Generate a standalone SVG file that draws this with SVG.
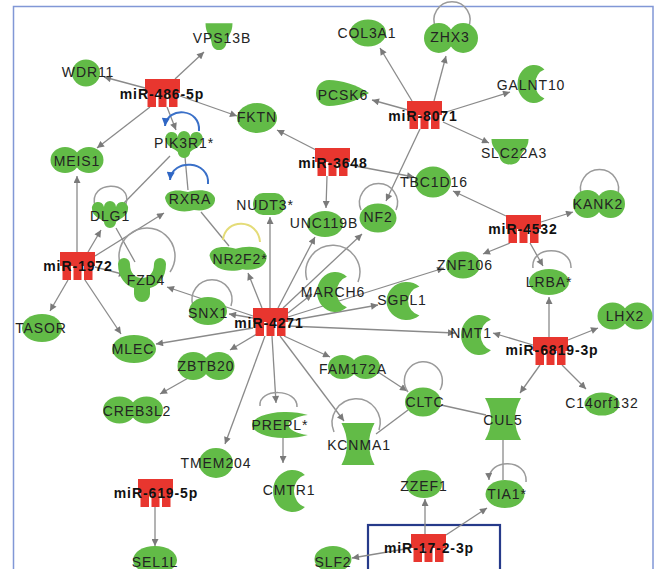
<svg xmlns="http://www.w3.org/2000/svg" width="658" height="569" viewBox="0 0 658 569">
<style>
.e{stroke:#8a8a8a;stroke-width:1.3;fill:none}
.a{marker-end:url(#arr)}
.lp{stroke:#9a9a9a;stroke-width:1.5;fill:none}
.bl{stroke:#3a70c8;stroke-width:2;fill:none;marker-end:url(#arrb)}
.yl{stroke:#e4dc78;stroke-width:2;fill:none}
.g{fill:#62bb47}
.r{fill:#e8362f}
.t{font-family:"Liberation Sans",Arial,sans-serif;font-size:14px;letter-spacing:0.9px;fill:#232323;text-anchor:middle}
.m{font-weight:bold;fill:#111}
</style>
<defs>
<marker id="arr" viewBox="0 0 10 10" refX="10" refY="5" markerWidth="8" markerHeight="7" markerUnits="userSpaceOnUse" orient="auto"><path d="M0,0 L10,5 L0,10 z" fill="#7a7a7a"/></marker>
<marker id="arrb" viewBox="0 0 10 10" refX="10" refY="5" markerWidth="9" markerHeight="8" markerUnits="userSpaceOnUse" orient="auto"><path d="M0,0 L10,5 L0,10 z" fill="#2f66c4"/></marker>
<path id="mir" d="M0,0 H35 V14 H32.5 V28 H24 V14 H21.5 V28 H13.5 V14 H11 V28 H2.5 V14 H0 Z"/>
<g id="peanut"><circle cx="-9" cy="0" r="11"/><circle cx="9" cy="0" r="11"/></g>
<path id="cres" d="M16.4,-15.3 A20,20 0 1 0 16.4,15.3 A16,16 0 0 1 16.4,-15.3 Z"/>
<path id="kin" d="M-18,-6 A6,6 0 0 1 -6,-8 A6,6 0 0 1 6,-8 A6,6 0 0 1 18,-6 C18,2 8,4 6,7 A6,6 0 0 1 -6,7 C-8,4 -18,2 -18,-6 Z"/>
<path id="nr" d="M-25,-3 C-24,-11 -12,-12 -2,-9 C8,-12 22,-12 25,-3 C26,6 16,11 4,9 C-6,12 -22,11 -25,-3 Z"/>
<path id="cup" d="M-18,-14 L18,-14 C18,-4 11,-2 10,4 C9,14 -9,14 -10,4 C-11,-2 -18,-4 -18,-14 Z"/>
<path id="hg" d="M-18,-21 L18,-21 Q6,0 18,21 L-18,21 Q-6,0 -18,-21 Z"/>
<path id="rec" d="M-24,-16 A6,6 0 0 1 -12,-16 C-12,-6 -6,-2 0,-2 C6,-2 12,-6 12,-16 A6,6 0 0 1 24,-16 C24,-2 16,6 8,8 L8,14 A8,8 0 0 1 -8,14 L-8,8 C-16,6 -24,-2 -24,-16 Z"/>
<path id="tear" d="M-14,-13 C-2,-13 14,-8 26,0 C14,8 -2,13 -14,13 A13,13 0 0 1 -14,-13 Z"/>
</defs>
<rect x="0" y="0" width="658" height="569" fill="#ffffff"/>
<rect x="13.5" y="6.5" width="639.5" height="600" fill="none" stroke="#8197d6" stroke-width="1.5"/>
<rect x="368" y="525" width="132" height="70" fill="none" stroke="#263a8a" stroke-width="2.2"/>

<g id="connectors">
<line class="e a" x1="175" y1="79" x2="204" y2="52"/>
<line class="e a" x1="145" y1="88" x2="104" y2="77"/>
<line class="e a" x1="150" y1="107" x2="97" y2="148"/>
<line class="e a" x1="167" y1="107" x2="176" y2="130"/>
<line class="e a" x1="180" y1="96" x2="237" y2="116"/>
<line class="e a" x1="412" y1="101" x2="380" y2="48"/>
<line class="e a" x1="434" y1="101" x2="446" y2="56"/>
<line class="e a" x1="408" y1="110" x2="372" y2="100"/>
<line class="e a" x1="443" y1="113" x2="510" y2="92"/>
<line class="e a" x1="443" y1="122" x2="489" y2="143"/>
<line class="e a" x1="420" y1="129" x2="386" y2="201"/>
<line class="e a" x1="316" y1="150" x2="277" y2="130"/>
<line class="e a" x1="350" y1="165" x2="414" y2="177"/>
<line class="e a" x1="327" y1="176" x2="326" y2="208"/>
<line class="e a" x1="506" y1="216" x2="453" y2="191"/>
<line class="e a" x1="541" y1="222" x2="573" y2="212"/>
<line class="e a" x1="510" y1="243" x2="483" y2="254"/>
<line class="e a" x1="530" y1="243" x2="543" y2="266"/>
<line class="e a" x1="549" y1="337" x2="549" y2="297"/>
<line class="e a" x1="568" y1="340" x2="598" y2="328"/>
<line class="e a" x1="533" y1="345" x2="493" y2="333"/>
<line class="e a" x1="540" y1="365" x2="520" y2="393"/>
<line class="e a" x1="562" y1="365" x2="586" y2="389"/>
<line class="e a" x1="270" y1="308" x2="270" y2="217"/>
<line class="e a" x1="262" y1="308" x2="248" y2="273"/>
<line class="e a" x1="278" y1="308" x2="315" y2="237"/>
<line class="e a" x1="283" y1="308" x2="362" y2="234"/>
<line class="e a" x1="288" y1="313" x2="312" y2="294"/>
<line class="e a" x1="288" y1="317" x2="444" y2="268"/>
<line class="e a" x1="288" y1="321" x2="378" y2="305"/>
<line class="e a" x1="288" y1="326" x2="455" y2="333"/>
<line class="e a" x1="284" y1="336" x2="330" y2="357"/>
<line class="e a" x1="280" y1="336" x2="344" y2="421"/>
<line class="e a" x1="272" y1="336" x2="276" y2="403"/>
<line class="e a" x1="265" y1="336" x2="225" y2="444"/>
<line class="e a" x1="257" y1="334" x2="230" y2="350"/>
<line class="e a" x1="253" y1="328" x2="156" y2="344"/>
<line class="e a" x1="253" y1="318" x2="229" y2="314"/>
<line class="e a" x1="253" y1="316" x2="167" y2="287"/>
<line class="e a" x1="77" y1="252" x2="77" y2="176"/>
<line class="e a" x1="88" y1="252" x2="101" y2="230"/>
<line class="e a" x1="95" y1="256" x2="164" y2="213"/>
<line class="e a" x1="95" y1="267" x2="126" y2="275"/>
<line class="e a" x1="68" y1="280" x2="50" y2="311"/>
<line class="e a" x1="85" y1="280" x2="121" y2="334"/>
<line class="e" x1="170" y1="156" x2="124" y2="203"/>
<line class="e" x1="185" y1="157" x2="188" y2="190"/>
<line class="e" x1="116" y1="228" x2="135" y2="262"/>
<line class="e" x1="201" y1="212" x2="229" y2="246"/>
<line class="e" x1="441" y1="405" x2="486" y2="415"/>
<line class="e" x1="376" y1="434" x2="408" y2="410"/>
<line class="e a" x1="378" y1="372" x2="407" y2="391"/>
<line class="e" x1="503" y1="440" x2="503" y2="480"/>
<line class="e a" x1="425" y1="534" x2="425" y2="499"/>
<line class="e a" x1="411" y1="548" x2="352" y2="558"/>
<line class="e a" x1="446" y1="535" x2="487" y2="508"/>
<line class="e a" x1="155" y1="507" x2="155" y2="546"/>
<line class="e a" x1="283" y1="438" x2="283" y2="463"/>
<line class="e a" x1="190" y1="377" x2="160" y2="394"/>
<path class="lp" d="M436,28 A18,18 0 1 1 468,28"/>
<path class="bl" d="M199,131 C201,108 167,106 165,126"/>
<path class="bl" d="M208,184 C210,160 172,158 170,180"/>
<path class="lp" d="M95,206 C88,180 133,180 126,204"/>
<path class="lp" d="M124,272 A28,28 0 1 1 170,272"/>
<path class="lp" d="M193,306 A20,20 0 1 1 231,306"/>
<path class="yl" d="M223,240 C225,218 258,218 260,242"/>
<path class="lp" d="M361,210 A19,19 0 1 1 396,210"/>
<path class="lp" d="M307,280 A27,27 0 1 1 358,282"/>
<path class="lp" d="M533,268 C530,245 572,245 571,268"/>
<path class="lp" d="M582,196 A19,19 0 1 1 617,196"/>
<path class="lp" d="M260,406 C258,388 298,388 297,407"/>
<path class="lp" d="M334,432 A24,24 0 1 1 379,430"/>
<path class="lp" d="M408,392 A19,19 0 1 1 440,390"/>
<path class="lp a" d="M526,482 C528,458 488,458 489,480"/>
</g>

<g id="VPS13B"><use href="#cup" class="g" transform="translate(219,38) scale(0.75,1.05)"/><text class="t" x="222" y="43">VPS13B</text></g>
<g id="WDR11"><ellipse class="g" cx="86" cy="73" rx="14" ry="13.5"/><text class="t" x="88" y="77">WDR11</text></g>
<g id="COL3A1"><ellipse class="g" cx="368" cy="33" rx="18" ry="13.5"/><text class="t" x="367" y="38">COL3A1</text></g>
<g id="ZHX3"><use href="#peanut" class="g" transform="translate(451,38) scale(1.35,1.36)"/><text class="t" x="450" y="42">ZHX3</text></g>
<g id="PCSK6"><use href="#tear" class="g" transform="translate(343,93)"/><text class="t" x="343" y="100">PCSK6</text></g>
<g id="GALNT10"><use href="#cres" class="g" transform="translate(531,84) scale(0.82,0.95)"/><text class="t" x="531" y="90">GALNT10</text></g>
<g id="SLC22A3"><use href="#cup" class="g" transform="translate(510,153) scale(1.03,1)"/><text class="t" x="514" y="158">SLC22A3</text></g>
<g id="FKTN"><ellipse class="g" cx="257" cy="118" rx="20" ry="15"/><text class="t" x="257" y="122">FKTN</text></g>
<g id="PIK3R1"><use href="#kin" class="g" transform="translate(184,145) scale(1.03,1)"/><text class="t" x="184" y="148">PIK3R1*</text></g>
<g id="MEIS1"><use href="#peanut" class="g" transform="translate(77,160) scale(1.325,1.18)"/><text class="t" x="77" y="166">MEIS1</text></g>
<g id="TBC1D16"><ellipse class="g" cx="433" cy="182" rx="18" ry="15.5"/><text class="t" x="434" y="187">TBC1D16</text></g>
<g id="DLG1"><use href="#kin" class="g" transform="translate(110,215)"/><text class="t" x="110" y="221">DLG1</text></g>
<g id="RXRA"><use href="#nr" class="g" transform="translate(190,201)"/><text class="t" x="190" y="204">RXRA</text></g>
<g id="NUDT3"><rect class="g" x="253" y="193" width="32" height="22" rx="10"/><text class="t" x="265" y="210">NUDT3*</text></g>
<g id="UNC119B"><ellipse class="g" cx="325" cy="224" rx="18" ry="13"/><text class="t" x="324" y="228">UNC119B</text></g>
<g id="NF2"><ellipse class="g" cx="378" cy="218" rx="18.5" ry="14.5"/><text class="t" x="378" y="222">NF2</text></g>
<g id="NR2F2"><use href="#nr" class="g" transform="translate(238,259) scale(1.14,1.14)"/><text class="t" x="240" y="264">NR2F2*</text></g>
<g id="KANK2"><use href="#peanut" class="g" transform="translate(599,204) scale(1.3,1.27)"/><text class="t" x="598" y="209">KANK2</text></g>
<g id="ZNF106"><ellipse class="g" cx="463" cy="265" rx="17" ry="13.5"/><text class="t" x="465" y="270">ZNF106</text></g>
<g id="LRBA"><ellipse class="g" cx="549" cy="282" rx="20" ry="13"/><text class="t" x="549" y="287">LRBA*</text></g>
<g id="FZD4"><use href="#rec" class="g" transform="translate(142,280)"/><text class="t" x="146" y="285">FZD4</text></g>
<g id="MARCH6"><use href="#cres" class="g" transform="translate(332,292) scale(0.91,1)"/><text class="t" x="333" y="297">MARCH6</text></g>
<g id="SGPL1"><use href="#cres" class="g" transform="translate(403,301) scale(1,0.95)"/><text class="t" x="402" y="305">SGPL1</text></g>
<g id="TASOR"><ellipse class="g" cx="42" cy="328" rx="20" ry="14"/><text class="t" x="41" y="333">TASOR</text></g>
<g id="SNX1"><ellipse class="g" cx="208" cy="311" rx="19" ry="14"/><text class="t" x="208" y="318">SNX1</text></g>
<g id="NMT1"><use href="#cres" class="g" transform="translate(476,335) scale(0.91,1)"/><text class="t" x="471" y="338">NMT1</text></g>
<g id="LHX2"><use href="#peanut" class="g" transform="translate(625,316) scale(1.375,1.23)"/><text class="t" x="625" y="321">LHX2</text></g>
<g id="MLEC"><ellipse class="g" cx="134" cy="349" rx="22" ry="14"/><text class="t" x="133" y="354">MLEC</text></g>
<g id="ZBTB20"><use href="#peanut" class="g" transform="translate(206,366) scale(1.425,1.27)"/><text class="t" x="206" y="371">ZBTB20</text></g>
<g id="FAM172A"><use href="#peanut" class="g" transform="translate(354,367) scale(1.3,1.09)"/><text class="t" x="353" y="374">FAM172A</text></g>
<g id="CLTC"><ellipse class="g" cx="423" cy="402" rx="18" ry="14.5"/><text class="t" x="425" y="407">CLTC</text></g>
<g id="CUL5"><use href="#hg" class="g" transform="translate(503,419)"/><text class="t" x="503" y="425">CUL5</text></g>
<g id="C14orf132"><ellipse class="g" cx="602" cy="404" rx="17.5" ry="11.5"/><text class="t" x="602" y="408">C14orf132</text></g>
<g id="CREB3L2"><use href="#peanut" class="g" transform="translate(133,410) scale(1.5,1.23)"/><text class="t" x="137" y="416">CREB3L2</text></g>
<g id="PREPL"><use href="#cres" class="g" transform="translate(280,425) scale(1.7,0.65)"/><text class="t" x="280" y="430">PREPL*</text></g>
<g id="KCNMA1"><use href="#hg" class="g" transform="translate(358,444) scale(0.92,1)"/><text class="t" x="359" y="450">KCNMA1</text></g>
<g id="TMEM204"><ellipse class="g" cx="216" cy="463" rx="17" ry="15"/><text class="t" x="216" y="468">TMEM204</text></g>
<g id="CMTR1"><use href="#cres" class="g" transform="translate(289,491) scale(0.97,1.05)"/><text class="t" x="289" y="495">CMTR1</text></g>
<g id="ZZEF1"><ellipse class="g" cx="424" cy="484" rx="18" ry="14"/><text class="t" x="424" y="491">ZZEF1</text></g>
<g id="TIA1"><ellipse class="g" cx="505" cy="494" rx="19.5" ry="14"/><text class="t" x="507" y="499">TIA1*</text></g>
<g id="SEL1L"><ellipse class="g" cx="155" cy="560" rx="22" ry="14"/><text class="t" x="155" y="567">SEL1L</text></g>
<g id="SLF2"><ellipse class="g" cx="333" cy="559" rx="18.5" ry="13"/><text class="t" x="333" y="567">SLF2</text></g>

<g id="miR-486-5p"><use href="#mir" class="r" x="145" y="79"/><text class="t m" x="162" y="99">miR-486-5p</text></g>
<g id="miR-8071"><use href="#mir" class="r" x="407" y="101"/><text class="t m" x="423" y="121">miR-8071</text></g>
<g id="miR-3648"><use href="#mir" class="r" x="315" y="148"/><text class="t m" x="333" y="168">miR-3648</text></g>
<g id="miR-1972"><use href="#mir" class="r" x="60" y="252"/><text class="t m" x="78" y="271">miR-1972</text></g>
<g id="miR-4271"><use href="#mir" class="r" x="253" y="308"/><text class="t m" x="269" y="328">miR-4271</text></g>
<g id="miR-4532"><use href="#mir" class="r" x="506" y="215"/><text class="t m" x="523" y="234">miR-4532</text></g>
<g id="miR-6819-3p"><use href="#mir" class="r" x="533" y="337"/><text class="t m" x="552" y="355">miR-6819-3p</text></g>
<g id="miR-619-5p"><use href="#mir" class="r" x="138" y="479"/><text class="t m" x="156" y="498">miR-619-5p</text></g>
<g id="miR-17-2-3p"><use href="#mir" class="r" x="411" y="534"/><text class="t m" x="429" y="553">miR-17-2-3p</text></g>
</svg>
